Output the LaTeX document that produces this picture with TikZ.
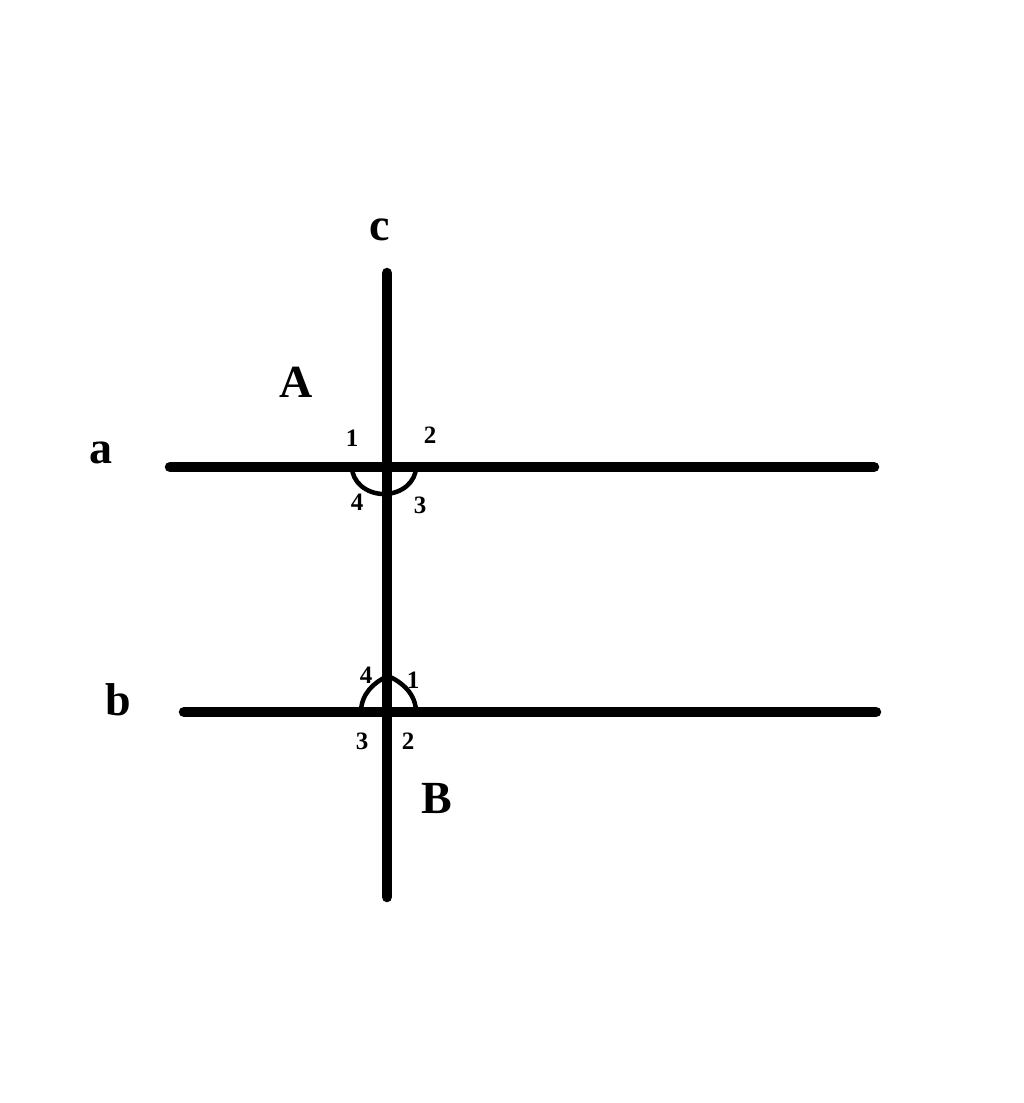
\documentclass[tikz,border=0pt]{standalone}
\usepackage{fontspec}
\setmainfont{Liberation Serif}
\begin{document}
\begin{tikzpicture}[x=1pt,y=-1pt,
  ln/.style={line width=10.5pt,line cap=round},
  arcln/.style={line width=4.5pt},
  big/.style={font=\fontsize{46}{50}\selectfont\bfseries,inner sep=0pt,anchor=base},
  num/.style={font=\fontsize{25}{28}\selectfont\bfseries,inner sep=0pt,anchor=center}]
\useasboundingbox[fill=white] (0,0) rectangle (1024,1103);
% lines
\coordinate (cT) at (387,273);
\coordinate (cB) at (387,897);
\coordinate (aL) at (170,467);
\coordinate (aR) at (874,467);
\coordinate (bL) at (184,712);
\coordinate (bR) at (876,712);
\draw[ln] (cT) -- (cB);
\draw[ln] (aL) -- (aR);
\draw[ln] (bL) -- (bR);
% angle arcs
\draw[arcln] (352,467) arc[start angle=180,end angle=360,x radius=32,y radius=-27];
\draw[arcln] (361,712) .. controls (361,694) and (374,682) .. (388,676)
                       .. controls (402,682) and (416,694) .. (416,712);
% labels
\node[big] (lc) at (380,240) {c};
\node[big] (lA) at (296,397) {A};
\node[big] (la) at (101,463) {a};
\node[big] (lb) at (118,715) {b};
\node[big] (lB) at (437,813) {B};
% numbers at A
\node[num] (a1) at (352,438) {1};
\node[num] (a2) at (430,435) {2};
\node[num] (a4) at (357,502) {4};
\node[num] (a3) at (420,505) {3};
% numbers at B
\node[num] (b4) at (366,675) {4};
\node[num] (b1) at (413,680) {1};
\node[num] (b3) at (362,741) {3};
\node[num] (b2) at (408,741) {2};
\end{tikzpicture}
\end{document}
